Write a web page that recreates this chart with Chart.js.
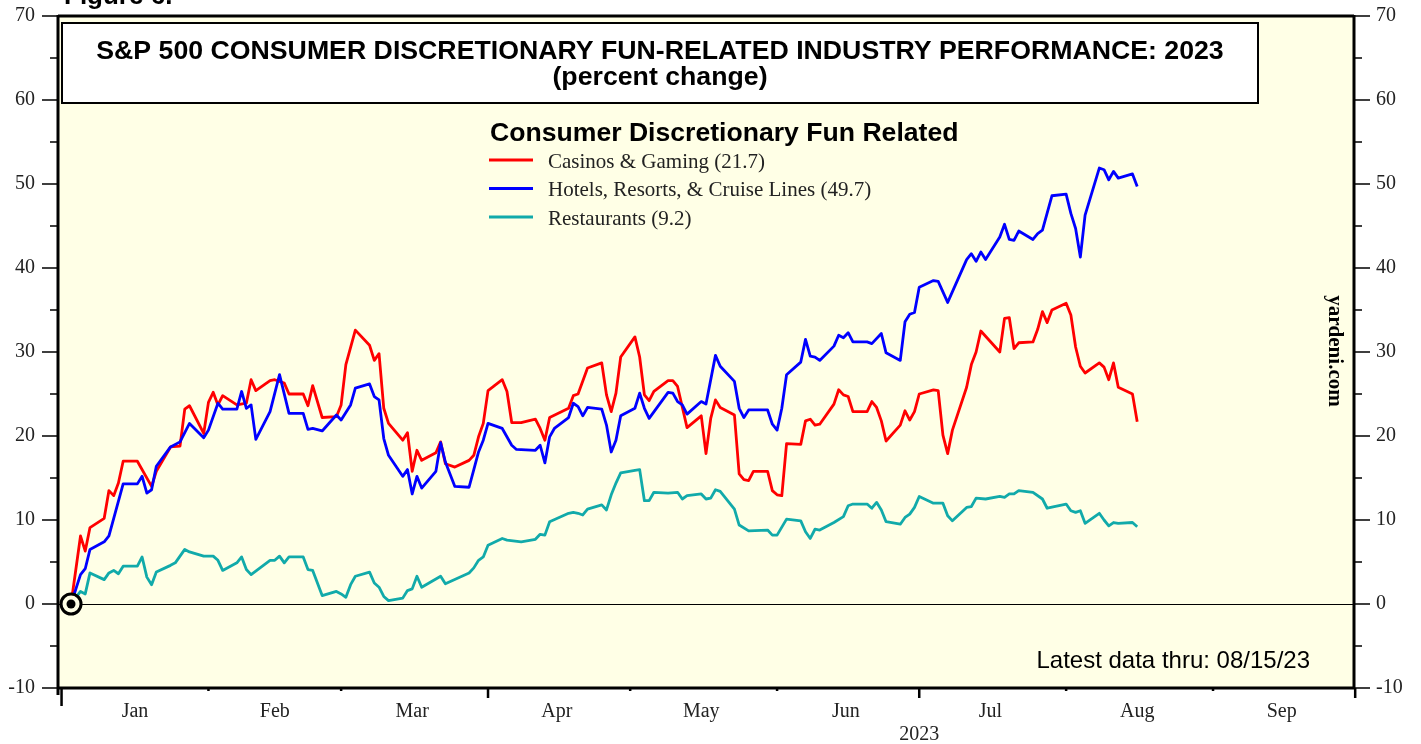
<!DOCTYPE html>
<html>
<head>
<meta charset="utf-8">
<script src="https://cdn.jsdelivr.net/npm/chart.js@4.4.1/dist/chart.umd.min.js"></script>
<style>
  html, body { margin: 0; padding: 0; background: #fff; }
  #wrap { width: 1421px; height: 744px; }
</style>
</head>
<body>
<div id="wrap"><canvas id="chart" width="1421" height="744"></canvas></div>
<script>
// days counted from Jan 1 2023 (= 0), values are % change since start of year
const casinoDays = [2,4,5,6,9,10,11,12,13,16, 19,20,23,25,26,27,30,31,32,33, 34,37,39,40,41,44,45,47,48,51,
  52,53,55,58,59,60,62,65,66,67, 68,69,72,73,74,75,76,79,80,81, 83,86,87,88,89,90,93,94,95,97,
  100,101,102,103,107,108,109,111,114,115, 116,117,118,121,122,123,124,125,128,129, 130,132,135,136,137,138,139,142,143,144,
  145,146,149,150,151,152,153,156,157,158, 159,160,163,164,165,166,167,170,171,172, 173,174,177,178,179,180,181,184,185,186,
  187,188,191,192,193,194,198,199,200,201, 202,205,206,207,208,209,212,213,214,215, 216,219,220,221,222,223,226,227];
const casinoVals = [0,8.1,6.3,9.1,10.2,13.5,12.9,14.4,17.0,17.0, 14.0,15.8,18.7,18.8,23.2,23.6,20.3,24.0,25.2,23.7,
  24.8,23.7,23.9,26.7,25.4,26.6,26.7,26.3,25.0,25.0, 23.6,26.0,22.2,22.3,23.7,28.5,32.6,30.8,29.0,29.8,
  23.3,21.5,19.5,20.4,15.8,18.3,17.1,18.0,19.3,16.7, 16.3,17.1,17.7,19.9,21.5,25.4,26.7,25.3,21.6,21.6,
  22.0,20.9,19.5,22.2,23.3,24.8,25.0,28.1,28.7,24.9, 22.9,25.1,29.4,31.8,29.4,24.9,24.2,25.3,26.6,26.6,
  25.9,21.0,22.4,17.9,22.1,24.3,23.4,22.5,15.5,14.8, 14.7,15.8,15.8,13.5,13.0,12.9,19.1,19.0,21.8,22.0,
  21.3,21.4,23.8,25.5,24.9,24.7,22.9,22.9,24.1,23.4, 21.8,19.4,21.3,23.0,21.9,22.9,25.0,25.5,25.4,20.1,
  17.9,20.7,25.8,28.5,30.0,32.5,30.0,34.0,34.1,30.4, 31.1,31.2,32.7,34.8,33.5,35.0,35.8,34.4,30.6,28.3,
  27.5,28.7,28.2,26.7,28.7,25.8,25.0,21.7];

const hotelDays = [2,4,5,6,9,10,13,16,17,18, 19,20,23,25,27,30,31,33,34,37, 38,39,40,41,44,46,48,51,52,53,
  55,58,59,61,62,65,66,67,68,69, 72,73,74,75,76,79,80,81,83,86, 87,88,89,90,93,95,96,100,101,102,
  103,104,107,108,109,110,111,114,115,116, 117,118,121,122,123,124,128,129,130,131, 132,135,136,138,139,142,143,144,145,149,
  150,151,152,153,156,157,158,159,160,163, 164,165,166,167,170,171,173,174,177,178, 179,180,181,184,185,187,191,192,193,194,
  195,198,199,200,201,202,205,206,207,209, 212,213,214,215,216,219,220,221,222,223, 226,227];
const hotelVals = [0,3.5,4.2,6.5,7.4,8.1,14.3,14.3,15.2,13.2, 13.6,16.4,18.7,19.3,21.5,19.8,20.7,23.9,23.2,23.2,
  25.3,23.3,23.7,19.6,22.9,27.3,22.7,22.7,20.8,20.9, 20.6,22.5,21.9,23.7,25.7,26.2,24.7,24.3,19.7,17.7,
  15.2,16.0,13.1,15.2,13.8,15.8,19.2,16.9,14.0,13.9, 16.0,18.1,19.5,21.5,20.9,18.9,18.4,18.3,18.9,16.8,
  19.9,20.9,22.2,23.9,23.5,22.4,23.4,23.2,21.3,18.1, 19.5,22.4,23.3,25.1,23.3,22.1,25.2,25.1,24.1,23.7,
  22.6,24.1,23.8,29.6,28.3,26.5,23.3,22.2,23.1,23.1, 21.4,20.7,23.3,27.3,28.8,31.5,29.5,29.4,29.0,30.7,
  32.0,31.7,32.3,31.2,31.2,31.0,32.2,29.9,29.0,33.6, 34.5,34.7,37.7,38.5,38.4,35.9,41.0,41.7,40.8,41.9,
  41.0,43.7,45.2,43.4,43.3,44.4,43.4,44.1,44.5,48.6, 48.8,46.5,44.7,41.3,46.3,51.9,51.7,50.5,51.5,50.7,
  51.2,49.7];

const restDays = [2,4,5,6,9,10,11,12,13,16, 17,18,19,20,23,24,26,27,30,32, 33,34,37,38,39,40,44,45,46,47,
  48,51,52,53,55,58,59,60,61,62, 65,66,67,68,69,72,73,74,75,76, 80,81,86,87,88,89,90,93,94,97,
  100,101,102,103,107,108,109,110,111,114, 115,116,117,118,121,122,123,124,125,128, 130,131,132,135,136,137,138,139,142,143,
  145,149,150,151,153,156,157,158,159,160, 163,165,166,167,170,171,172,173,174,177, 178,179,180,181,184,186,187,188,191,192,
  193,195,198,199,200,201,202,205,207,208, 212,213,214,215,216,219,220,221,222,223, 226,227];
const restVals = [0,1.5,1.2,3.7,2.9,3.7,4.0,3.6,4.5,4.5, 5.6,3.2,2.3,3.8,4.6,4.9,6.5,6.2,5.7,5.7,
  5.2,4.0,4.9,5.6,4.1,3.5,5.2,5.2,5.7,4.9, 5.6,5.6,4.1,4.0,1.0,1.5,1.2,0.8,2.3,3.3,
  3.8,2.5,2.0,0.9,0.4,0.7,1.6,1.8,3.3,2.0, 3.3,2.4,3.7,4.3,5.2,5.6,7.0,7.8,7.6,7.4,
  7.7,8.3,8.2,9.8,10.8,10.9,10.8,10.6,11.3,11.8, 11.2,13.0,14.4,15.6,15.9,16.0,12.3,12.3,13.3,13.2,
  13.3,12.5,12.9,13.1,12.5,12.6,13.6,13.4,11.3,9.4, 8.7,8.8,8.2,8.2,10.1,9.9,8.6,7.8,8.9,8.8,
  9.7,10.4,11.7,11.9,11.9,11.4,12.1,11.2,9.8,9.5, 10.3,10.7,11.5,12.8,12.0,12.0,10.5,9.9,11.5,11.6,
  12.6,12.5,12.8,12.7,13.1,13.1,13.5,13.3,12.5,11.4, 11.9,11.1,10.9,11.1,9.6,10.8,10.0,9.3,9.7,9.6,
  9.7,9.2];

const seriesNames = ['Casinos & Gaming', 'Hotels, Resorts, & Cruise Lines', 'Restaurants'];
const seriesColors = ['#ff0000', '#0000ff', '#11aaaa'];

const monthLabels = ['Jan', 'Feb', 'Mar', 'Apr', 'May', 'Jun', 'Jul', 'Aug', 'Sep'];
const monthMids = [15.5, 45, 74, 104.5, 135, 165.5, 196, 227, 257.5];
const monthStarts = [0, 31, 59, 90, 120, 151, 181, 212, 243, 273];
const yTicks = [-10, 0, 10, 20, 30, 40, 50, 60, 70];

const SERIF = '"Liberation Serif", "Times New Roman", serif';
const SANS = '"Liberation Sans", Arial, sans-serif';

function pts(days, vals) {
  return days.map((d, i) => ({ x: d, y: vals[i] }));
}
function lastOf(vals) {
  return vals[vals.length - 1].toFixed(1);
}

const lineSets = [
  { days: casinoDays, vals: casinoVals, order: 2 },
  { days: hotelDays, vals: hotelVals, order: 1 },
  { days: restDays, vals: restVals, order: 3 }
].map((s, i) => ({
  label: seriesNames[i] + ' (' + lastOf(s.vals) + ')',
  data: pts(s.days, s.vals),
  borderColor: seriesColors[i],
  borderWidth: 2.8,
  pointRadius: 0,
  tension: 0,
  borderJoinStyle: 'round',
  order: s.order
}));

// bull's-eye at the starting point
const startMarks = [
  { label: 'ring', data: [{ x: casinoDays[0], y: 0 }], showLine: false, pointRadius: 10,
    pointBackgroundColor: '#ffffe6', pointBorderColor: '#000', pointBorderWidth: 3, order: 0 },
  { label: 'dot', data: [{ x: casinoDays[0], y: 0 }], showLine: false, pointRadius: 4.5,
    pointBackgroundColor: '#000', pointBorderWidth: 0, order: -1 }
];

const decor = {
  id: 'decor',
  beforeDraw(chart) {
    const { ctx, chartArea: a } = chart;
    ctx.save();
    ctx.fillStyle = '#fff';
    ctx.fillRect(0, 0, chart.width, chart.height);
    ctx.fillStyle = '#ffffe6';
    ctx.fillRect(a.left, a.top, a.right - a.left, a.bottom - a.top);
    ctx.restore();
  },
  beforeDatasetsDraw(chart) {
    const { ctx, chartArea: a } = chart;
    const y0 = Math.round(chart.scales.y.getPixelForValue(0)) + 0.5;
    ctx.save();
    ctx.strokeStyle = '#000';
    ctx.lineWidth = 1;
    ctx.beginPath();
    ctx.moveTo(a.left, y0);
    ctx.lineTo(a.right, y0);
    ctx.stroke();
    ctx.restore();
  },
  afterDraw(chart) {
    const { ctx, chartArea: a } = chart;
    const ys = chart.scales.y, xs = chart.scales.x;
    ctx.save();
    ctx.strokeStyle = '#000';

    // frame
    ctx.lineWidth = 3;
    ctx.beginPath();
    ctx.moveTo(a.left, a.top); ctx.lineTo(a.right, a.top);
    ctx.moveTo(a.right, a.top - 1); ctx.lineTo(a.right, a.bottom + 1);
    ctx.moveTo(a.left, a.top - 1); ctx.lineTo(a.left, a.bottom + 7);
    ctx.moveTo(a.left - 1, a.bottom); ctx.lineTo(a.right + 1, a.bottom);
    ctx.stroke();

    // y tick marks, both sides
    ctx.lineWidth = 1.5;
    ctx.beginPath();
    for (let v = -10; v <= 70; v += 5) {
      const y = ys.getPixelForValue(v);
      const len = v % 10 === 0 ? 16 : 8;
      ctx.moveTo(a.left - len, y); ctx.lineTo(a.left, y);
      ctx.moveTo(a.right, y); ctx.lineTo(a.right + len, y);
    }
    ctx.stroke();

    // month tick marks
    ctx.lineWidth = 2.5;
    ctx.beginPath();
    monthStarts.forEach((d, i) => {
      const x = xs.getPixelForValue(d);
      const len = i === 0 ? 18 : (i % 3 === 0 ? 10 : 3);
      ctx.moveTo(x, a.bottom); ctx.lineTo(x, a.bottom + len);
    });
    ctx.stroke();

    // year label
    ctx.fillStyle = '#222';
    ctx.font = '20px ' + SERIF;
    ctx.textAlign = 'center';
    ctx.textBaseline = 'alphabetic';
    ctx.fillText('2023', xs.getPixelForValue(181), 740);

    // title box
    ctx.fillStyle = '#fff';
    ctx.fillRect(62, 23, 1196, 80);
    ctx.lineWidth = 2;
    ctx.strokeRect(62, 23, 1196, 80);
    ctx.fillStyle = '#000';
    ctx.font = 'bold 26.7px ' + SANS;
    ctx.fillText('S&P 500 CONSUMER DISCRETIONARY FUN-RELATED INDUSTRY PERFORMANCE: 2023', 660, 59);
    ctx.fillText('(percent change)', 660, 85);

    // legend
    ctx.textAlign = 'left';
    ctx.font = 'bold 26.6px ' + SANS;
    ctx.fillText('Consumer Discretionary Fun Related', 490, 141);
    ctx.font = '21px ' + SERIF;
    const legY = [160, 188.5, 217];
    lineSets.forEach((ds, i) => {
      ctx.strokeStyle = ds.borderColor;
      ctx.lineWidth = 2.8;
      ctx.beginPath();
      ctx.moveTo(489, legY[i]); ctx.lineTo(533, legY[i]);
      ctx.stroke();
      ctx.fillStyle = '#222';
      ctx.fillText(ds.label, 548, legY[i] + 7.5);
    });

    // latest data note
    ctx.fillStyle = '#000';
    ctx.textAlign = 'right';
    ctx.font = '24px ' + SANS;
    ctx.fillText('Latest data thru: 08/15/23', 1310, 668);

    // source, rotated
    ctx.save();
    ctx.translate(1334, 351);
    ctx.rotate(Math.PI / 2);
    ctx.textAlign = 'center';
    ctx.textBaseline = 'middle';
    ctx.font = 'bold 21px ' + SERIF;
    ctx.fillText('yardeni.com', 0, 0);
    ctx.restore();

    // cut-off figure caption at the very top
    ctx.textAlign = 'left';
    ctx.font = 'bold 26px ' + SANS;
    ctx.fillText('Figure 6.', 64, 4);

    ctx.restore();
  }
};

function noPad(s) {
  s.paddingTop = 0; s.paddingBottom = 0; s.paddingLeft = 0; s.paddingRight = 0;
}

const yAxis = (pos, pad, width) => ({
  type: 'linear',
  position: pos,
  min: -10,
  max: 70,
  afterBuildTicks(s) { s.ticks = yTicks.map(v => ({ value: v })); },
  ticks: { font: { family: SERIF, size: 20 }, color: '#222', padding: pad },
  grid: { display: false, drawTicks: false },
  border: { display: false },
  afterFit(s) { s.width = width; noPad(s); }
});

new Chart(document.getElementById('chart'), {
  type: 'line',
  data: { datasets: [...startMarks, ...lineSets] },
  options: {
    responsive: false,
    animation: false,
    devicePixelRatio: 1,
    layout: { padding: { top: 16, left: 0, right: 0, bottom: 0 } },
    plugins: { legend: { display: false }, tooltip: { enabled: false } },
    scales: {
      x: {
        type: 'linear',
        min: -0.75,
        max: 272.75,
        afterBuildTicks(s) { s.ticks = monthMids.map(v => ({ value: v })); },
        ticks: {
          font: { family: SERIF, size: 20 },
          color: '#222',
          padding: 12,
          maxRotation: 0,
          autoSkip: false,
          callback: (v, i) => monthLabels[i]
        },
        grid: { display: false, drawTicks: false },
        border: { display: false },
        afterFit(s) { s.height = 56; noPad(s); }
      },
      y: yAxis('left', 23, 58),
      y2: yAxis('right', 22, 67)
    }
  },
  plugins: [decor]
});
</script>
</body>
</html>
